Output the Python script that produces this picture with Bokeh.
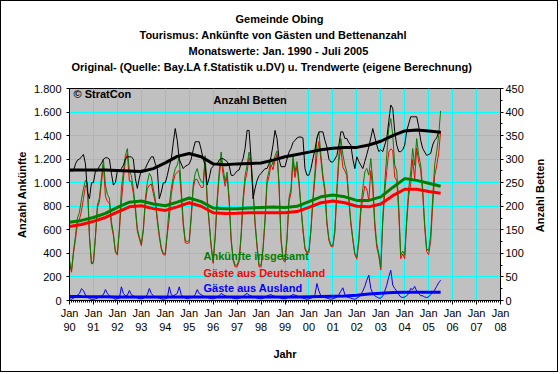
import math
from bokeh.plotting import figure
from bokeh.models import Range1d, LinearAxis, FixedTicker, Label, Title
from bokeh.embed import file_html
from bokeh.resources import INLINE

# ---------------- data (monthly, Jan 1990 .. Jul 2005) ----------------
ankuenfte_insgesamt = [
    340, 250, 420, 550, 700, 750, 860, 950, 1020, 1000, 550, 320,      # 1990
    328, 550, 810, 870, 1040, 1200, 980, 900, 870, 670, 570, 420,      # 1991
    400, 610, 950, 1090, 1230, 1290, 1100, 1060, 950, 800, 610, 540,   # 1992
    480, 610, 860, 1000, 1080, 1050, 950, 860, 700, 560, 450, 400,     # 1993
    400, 580, 810, 950, 1050, 1120, 1150, 1220, 950, 670, 510, 500,    # 1994
    510, 720, 980, 1080, 1120, 1050, 1010, 1000, 1230, 870, 670, 470,  # 1995
    330, 550, 860, 1090, 1260, 1120, 1010, 1090, 870, 530, 360, 300,   # 1996
    300, 350, 560, 870, 1060, 1150, 1260, 1180, 950, 670, 470, 300,    # 1997
    300, 450, 700, 1030, 1100, 1205, 1150, 1230, 1270, 1000, 530, 360, # 1998
    340, 530, 870, 950, 1230, 1090, 1180, 1020, 810, 610, 450, 410,    # 1999
    420, 610, 870, 1090, 1375, 1430, 1234, 1064, 950, 670, 526, 470,   # 2000
    470, 600, 950, 1234, 1375, 1240, 1150, 1090, 870, 670, 526, 400,   # 2001
    371, 526, 800, 951, 1092, 1121, 1064, 1205, 1007, 668, 480, 400,   # 2002
    280, 700, 1000, 1234, 1460, 1545, 1403, 1149, 1100, 800, 385, 420, # 2003
    385, 700, 950, 1092, 1290, 1149, 1375, 1234, 1150, 950, 650, 441,  # 2004
    420, 554, 866, 1150, 1262, 1400, 1610,                             # 2005
]
gaeste_deutschland = [
    325, 240, 400, 520, 655, 690, 760, 865, 975, 970, 535, 310,
    318, 535, 790, 840, 1000, 1150, 887, 840, 830, 640, 550, 410,
    385, 590, 834, 1030, 1190, 1245, 1015, 1010, 910, 770, 590, 525,
    465, 590, 830, 950, 978, 990, 910, 830, 675, 540, 435, 390,
    385, 560, 694, 900, 1010, 1070, 1090, 1104, 900, 640, 490, 485,
    490, 695, 950, 1030, 1027, 990, 960, 960, 1200, 845, 650, 455,
    315, 530, 830, 1050, 1200, 1070, 970, 1055, 840, 505, 340, 285,
    285, 330, 535, 835, 1010, 1090, 1215, 1140, 920, 645, 450, 285,
    285, 430, 675, 990, 1055, 1155, 1110, 1195, 1240, 975, 510, 345,
    325, 510, 840, 910, 1179, 1045, 1140, 990, 785, 590, 435, 400,
    405, 590, 840, 1040, 1231, 1350, 1194, 1034, 925, 650, 511, 460,
    455, 580, 920, 1184, 1295, 1132, 1100, 1060, 845, 650, 511, 390,
    351, 496, 750, 871, 972, 948, 849, 1103, 947, 628, 450, 380,
    260, 660, 920, 1104, 1260, 1288, 1273, 1047, 1020, 750, 355, 395,
    355, 660, 890, 990, 1197, 1029, 1295, 1174, 1109, 910, 620, 416,
    389, 504, 796, 1060, 1142, 1250, 1438,
]
gaeste_ausland = [
    15, 10, 20, 30, 45, 60, 100, 85, 45, 30, 15, 10,
    10, 15, 20, 30, 40, 50, 93, 60, 40, 30, 20, 10,
    15, 20, 116, 60, 40, 45, 85, 50, 40, 30, 20, 15,
    15, 20, 30, 50, 102, 60, 40, 30, 25, 20, 15, 10,
    15, 20, 116, 50, 40, 50, 60, 116, 50, 30, 20, 15,
    20, 25, 30, 50, 93, 60, 50, 40, 30, 25, 20, 15,
    15, 20, 30, 40, 60, 50, 40, 35, 30, 25, 20, 15,
    15, 20, 25, 35, 50, 60, 45, 40, 30, 25, 20, 15,
    15, 20, 25, 40, 45, 50, 40, 35, 30, 25, 20, 15,
    15, 20, 30, 40, 51, 45, 40, 30, 25, 20, 15, 10,
    15, 20, 30, 50, 144, 80, 40, 30, 25, 20, 15, 10,
    15, 20, 30, 50, 80, 108, 50, 30, 25, 20, 15, 10,
    20, 30, 50, 80, 120, 173, 215, 102, 60, 40, 30, 20,
    20, 40, 80, 130, 200, 257, 130, 102, 80, 50, 30, 25,
    30, 40, 60, 102, 93, 120, 80, 60, 41, 40, 30, 25,
    31, 50, 70, 90, 120, 150, 172,
]
anzahl_betten = [
    275, 275, 275, 290, 298, 300, 305, 310, 290, 230, 216, 250,
    250, 275, 275, 285, 291, 300, 303, 303, 300, 270, 245, 250,
    275, 275, 280, 287, 300, 305, 305, 305, 300, 259, 238, 260,
    277, 277, 280, 290, 298, 305, 305, 290, 280, 216, 230, 250,
    250, 265, 285, 300, 335, 365, 340, 300, 290, 280, 285, 287,
    290, 300, 320, 337, 337, 337, 320, 300, 287, 245, 260, 280,
    285, 290, 290, 298, 301, 301, 298, 295, 287, 266, 265, 270,
    275, 277, 290, 301, 323, 361, 361, 300, 216, 238, 255, 265,
    270, 275, 280, 280, 290, 305, 330, 361, 344, 300, 284, 284,
    284, 300, 315, 323, 335, 340, 345, 347, 347, 345, 280, 266,
    266, 280, 301, 320, 345, 358, 358, 358, 340, 326, 300, 294,
    294, 300, 308, 330, 358, 358, 344, 344, 335, 330, 300, 280,
    305, 295, 287, 280, 295, 310, 326, 345, 365, 347, 330, 316,
    320, 316, 330, 344, 380, 415, 408, 358, 330, 316, 316, 320,
    330, 360, 375, 390, 390, 390, 390, 369, 340, 323, 315, 308,
    310, 312, 330, 340, 345, 358, 358,
]

# trend values (half-yearly, Jan 1990 .. Jul 2005)
trend_insgesamt = [665, 680, 705, 740, 790, 835, 845, 820, 805, 835, 870, 840, 785, 778, 780, 785,
                   790, 793, 790, 800, 840, 880, 895, 880, 850, 850, 880, 960, 1035, 1020, 995, 970]
trend_deutschland = [628, 645, 672, 705, 750, 795, 805, 780, 765, 795, 830, 800, 745, 738, 740, 745,
                     745, 745, 745, 755, 790, 830, 845, 830, 800, 795, 820, 890, 945, 945, 925, 910]
trend_ausland = [35, 33, 32, 31, 30, 30, 30, 30, 30, 30, 30, 30, 30, 30, 30, 30,
                 30, 30, 30, 30, 32, 34, 36, 38, 45, 55, 62, 68, 70, 71, 71, 70]
trend_betten = [277, 277, 277, 277, 276, 275, 274, 280, 292, 306, 312, 305, 290, 288, 290, 291,
                292, 298, 305, 310, 315, 320, 323, 325, 325, 330, 338, 350, 360, 362, 360, 357]

year_ticks = list(range(1990, 2009))
year_tick_labels = ["Jan\n%02d" % (y % 100) for y in year_ticks]
left_ticks = [0, 200, 400, 600, 800, 1000, 1200, 1400, 1600, 1800]
left_tick_labels = ["0", "200", "400", "600", "800", "1.000", "1.200", "1.400", "1.600", "1.800"]
right_ticks = [0, 50, 100, 150, 200, 250, 300, 350, 400, 450]
right_tick_labels = ["0", "50", "100", "150", "200", "250", "300", "350", "400", "450"]

titles = ["Gemeinde Obing",
          "Tourismus: Ankünfte von Gästen und Bettenanzahl",
          "Monatswerte: Jan. 1990 - Juli 2005",
          "Original- (Quelle: Bay.LA f.Statistik u.DV) u. Trendwerte (eigene Berechnung)"]
title_offsets = [166, 70, 119, 2]   # left edge of each line, from the plot frame's left edge (px)

# ---------------- figure ----------------
FONT = "Liberation Sans"
W, H = 558, 372                 # + 1px CSS border on each side = 560 x 374
L, T = 68, 87                   # frame: 431 x 212
FW, FH = 431, 212
R, B = W - L - FW, H - T - FH

x_month = [1990 + i / 12 for i in range(len(ankuenfte_insgesamt))]
x_trend = [1990 + i / 2 for i in range(len(trend_insgesamt))]

p = figure(width=W, height=H, output_backend="svg", toolbar_location=None, title=None,
           x_range=Range1d(1990, 2008), y_range=Range1d(0, 1800),
           min_border_left=L, min_border_right=R, min_border_top=T, min_border_bottom=B,
           background_fill_color="#C0C0C0", border_fill_color="white",
           outline_line_color="black", outline_line_width=1)
p.styles = {"border": "1px solid black"}
p.extra_y_ranges = {"betten": Range1d(0, 450)}

# title lines: first added is closest to the frame
p.add_layout(Title(text=" ", text_font_size="1px", text_line_height=1.0, standoff=11), "above")
for t, off in reversed(list(zip(titles, title_offsets))):
    p.add_layout(Title(text=t, align="left", offset=off, vertical_align="middle", text_font=FONT,
                       text_font_size="11px", text_font_style="bold", text_color="black",
                       text_line_height=1.0, standoff=2), "above")

# grids
p.xgrid.ticker = FixedTicker(ticks=year_ticks)
p.ygrid.ticker = FixedTicker(ticks=left_ticks)
for g in (p.xgrid[0], p.ygrid[0]):
    g.grid_line_color = "#00FFFF"
    g.grid_line_width = 1

# axes
xa = p.xaxis[0]
xa.ticker = FixedTicker(ticks=year_ticks, minor_ticks=[1990 + i / 12 for i in range(18 * 12 + 1)])
xa.major_label_overrides = dict(zip(year_ticks, year_tick_labels))
xa.major_tick_in = 0
xa.major_tick_out = 4
xa.minor_tick_in = 0
xa.minor_tick_out = 2
xa.major_label_standoff = 2
xa.axis_label = "Jahr"
xa.axis_label_standoff = 12

ya = p.yaxis[0]
ya.ticker = FixedTicker(ticks=left_ticks)
ya.major_label_overrides = dict(zip(left_ticks, left_tick_labels))
ya.major_tick_in = 0
ya.major_tick_out = 3
ya.minor_tick_out = 0
ya.major_label_standoff = 5
ya.axis_label = "Anzahl Ankünfte"
ya.axis_label_standoff = 3

ra = LinearAxis(y_range_name="betten")
ra.ticker = FixedTicker(ticks=right_ticks, minor_ticks=list(range(0, 451, 25)))
ra.major_label_overrides = dict(zip(right_ticks, right_tick_labels))
ra.major_tick_in = 0
ra.major_tick_out = 3
ra.minor_tick_in = 0
ra.minor_tick_out = 2
ra.major_label_standoff = 2
p.add_layout(ra, "right")

for ax in (xa, ya, ra):
    ax.axis_line_color = "black"
    ax.major_tick_line_color = "black"
    ax.minor_tick_line_color = "black"
    ax.major_label_text_font = FONT
    ax.major_label_text_font_size = "11px"
    ax.major_label_text_color = "black"
    ax.major_label_orientation = "horizontal"
    ax.axis_label_text_font = FONT
    ax.axis_label_text_font_size = "11px"
    ax.axis_label_text_font_style = "bold"
    ax.axis_label_text_color = "black"

# right axis title, reading bottom-to-top, in the right side panel
p.add_layout(Label(x=13, y=105, x_units="screen", y_units="screen", text="Anzahl Betten",
                   angle=math.pi / 2, text_align="center", text_baseline="middle",
                   text_font=FONT, text_font_size="11px", text_font_style="bold",
                   text_color="black"), "right")

# lines (thin: monthly originals)
p.line(x_month, gaeste_deutschland, line_color="#FF0000", line_width=1)
p.line(x_month, ankuenfte_insgesamt, line_color="#008000", line_width=1)
p.line(x_month, gaeste_ausland, line_color="#0000FF", line_width=1)
p.line(x_month, anzahl_betten, line_color="black", line_width=1, y_range_name="betten")
# trend lines (thick)
p.line(x_trend, trend_deutschland, line_color="#FF0000", line_width=3)
p.line(x_trend, trend_insgesamt, line_color="#008000", line_width=3)
p.line(x_trend, trend_ausland, line_color="#0000FF", line_width=3)
p.line(x_trend, trend_betten, line_color="black", line_width=3, y_range_name="betten")

FRAME_LEFT, FRAME_BOTTOM = L, T + FH


def add_text(txt, xf, yf, color="black", align="left", size="11px", bold=True):
    p.add_layout(Label(x=xf - FRAME_LEFT, y=FRAME_BOTTOM - yf, x_units="screen", y_units="screen",
                       text=txt, text_color=color, text_align=align, text_baseline="middle",
                       text_font=FONT, text_font_size=size,
                       text_font_style="bold" if bold else "normal"))


add_text("© StratCon", 72, 92)
add_text("Anzahl Betten", 212, 98)
add_text("Ankünfte insgesamt", 202, 254, color="#008000")
add_text("Gäste aus Deutschland", 202, 271, color="#FF0000")
add_text("Gäste aus Ausland", 202, 286, color="#0000FF")

open("out.html", "w").write(file_html(p, INLINE))
